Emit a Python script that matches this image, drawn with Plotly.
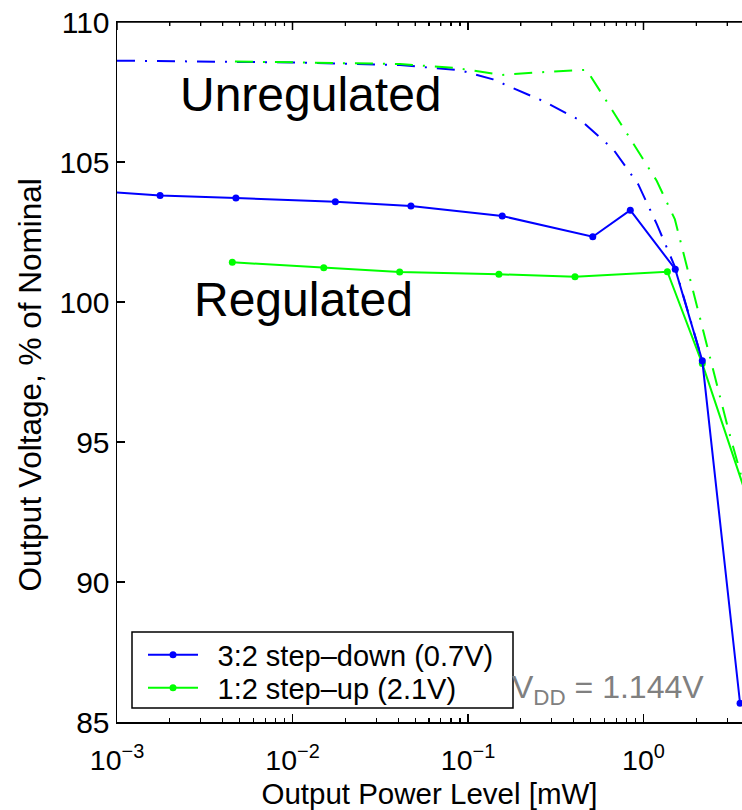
import plotly.graph_objects as go

# Regulated 3:2 step-down (0.7V)
down_reg_x = [0.00095, 0.00176, 0.00476, 0.01754, 0.0473, 0.1567, 0.514, 0.841, 1.517, 2.163, 3.55]
down_reg_y = [103.92, 103.8, 103.71, 103.58, 103.43, 103.07, 102.33, 103.28, 101.17, 97.9, 85.67]

# Regulated 1:2 step-up (2.1V)
up_reg_x = [0.00454, 0.01507, 0.0408, 0.150, 0.407, 1.368, 2.163, 4.0]
up_reg_y = [101.42, 101.22, 101.07, 100.99, 100.9, 101.08, 97.8, 92.8]

# Unregulated 3:2 step-down
down_unreg_x = [0.001, 0.011, 0.041, 0.09, 0.139, 0.267, 0.444, 0.673, 0.934, 1.189, 1.51, 2.163]
down_unreg_y = [108.62, 108.55, 108.46, 108.28, 107.95, 107.18, 106.46, 105.45, 104.2, 102.79, 101.26, 97.9]

# Unregulated 1:2 step-up
up_unreg_x = [0.0047, 0.041, 0.0843, 0.1556, 0.2807, 0.4743, 0.644, 0.875, 1.189, 1.51, 1.738,
              2.009, 2.29, 2.634, 3.04, 3.55, 4.0]
up_unreg_y = [108.59, 108.5, 108.36, 108.11, 108.22, 108.29, 106.98, 105.67, 104.33, 102.95, 101.45,
              99.97, 98.49, 96.98, 95.46, 93.94, 92.75]

legend_names = ["3:2 step\u2013down (0.7V)", "1:2 step\u2013up (2.1V)"]
y_ticks = [85, 90, 95, 100, 105, 110]
x_major = [0.001, 0.01, 0.1, 1]
x_major_text = ["10<sup>\u22123</sup>", "10<sup>\u22122</sup>", "10<sup>\u22121</sup>", "10<sup>0</sup>"]
x_minor = [m * d for d in (0.001, 0.01, 0.1, 1) for m in range(2, 10) if m * d < 4]

BLUE = "#0000FF"
GREEN = "#00FF00"
FONT = "Liberation Sans, Arial, Helvetica, sans-serif"
DASHDOT = "18px,10px,2px,10px"
X_RANGE = [-3, 0.5613]
PLOT_H = 700  # plot-area height in px (810 - 22 - 88)

fig = go.Figure()
fig.add_trace(go.Scatter(x=up_reg_x, y=up_reg_y, mode="lines+markers", name="\u2002" + legend_names[1],
                         line=dict(color=GREEN, width=2), marker=dict(color=GREEN, size=7),
                         legend="legend2"))
fig.add_trace(go.Scatter(x=down_unreg_x, y=down_unreg_y, mode="lines", xaxis="x2",
                         line=dict(color=BLUE, width=2, dash=DASHDOT), showlegend=False))
fig.add_trace(go.Scatter(x=up_unreg_x, y=up_unreg_y, mode="lines", xaxis="x2",
                         line=dict(color=GREEN, width=2, dash=DASHDOT), showlegend=False))
fig.add_trace(go.Scatter(x=down_reg_x, y=down_reg_y, mode="lines+markers", name="\u2002" + legend_names[0],
                         xaxis="x3", line=dict(color=BLUE, width=2), marker=dict(color=BLUE, size=7),
                         legend="legend"))

leg_common = dict(xanchor="left", yanchor="middle", bgcolor="rgba(0,0,0,0)", borderwidth=0,
                  font=dict(size=29), itemwidth=50)

base_axis = dict(type="log", range=X_RANGE, tickmode="array", tickvals=x_major,
                 showline=True, linecolor="black", linewidth=1.5,
                 showgrid=False, zeroline=False, automargin=False)
inside_ticks = dict(ticks="inside", ticklen=8, tickwidth=1.5, tickcolor="black",
                    minor=dict(tickmode="array", tickvals=x_minor, ticks="inside", ticklen=4,
                               tickcolor="black", tickwidth=1.2))

fig.update_layout(
    width=742, height=810,
    margin=dict(l=117, r=0, t=22, b=88),
    plot_bgcolor="white", paper_bgcolor="white",
    font=dict(family=FONT, color="black", size=28),
    hovermode=False,
    legend=dict(x=0.0416, y=0.0957, **leg_common),
    legend2=dict(x=0.0416, y=0.0486, **leg_common),
    xaxis=dict(ticktext=x_major_text, tickfont=dict(size=28.5),
               ticks="outside", ticklen=12, tickcolor="rgba(0,0,0,0)",
               title=dict(text="Output Power Level [mW]", font=dict(size=29.5), standoff=8),
               **base_axis),
    xaxis2=dict(overlaying="x", matches="x", side="top", showticklabels=False,
                **inside_ticks, **base_axis),
    xaxis3=dict(overlaying="x", matches="x", side="bottom", showticklabels=False,
                **inside_ticks, **base_axis),
    yaxis=dict(range=[85, 110], tickvals=y_ticks,
               showline=True, linecolor="black", linewidth=1.5,
               ticks="inside", ticklen=8, tickwidth=1.5, tickcolor="black",
               showgrid=False, zeroline=False, tickfont=dict(size=30), automargin=False),
)

# top frame line and its inward ticks
fig.add_shape(type="line", xref="paper", yref="paper", x0=0, x1=1, y0=1, y1=1,
              line=dict(color="black", width=1.5), layer="above")
for v in x_major:
    fig.add_shape(type="line", xref="x", yref="paper", x0=v, x1=v, y0=1, y1=1 - 8 / PLOT_H,
                  line=dict(color="black", width=1.5), layer="above")
for v in x_minor:
    fig.add_shape(type="line", xref="x", yref="paper", x0=v, x1=v, y0=1, y1=1 - 4 / PLOT_H,
                  line=dict(color="black", width=1.2), layer="above")

fig.add_shape(type="rect", xref="paper", yref="paper", x0=0.024, x1=0.6336, y0=0.02, y1=0.1286,
              line=dict(color="black", width=1.5), fillcolor="white", layer="below")

fig.add_annotation(xref="paper", yref="paper", x=-0.139, y=0.481, xanchor="center", yanchor="middle",
                   textangle=-90, text="Output Voltage, % of Nominal", showarrow=False,
                   font=dict(size=31.5, color="black"))
fig.add_annotation(xref="paper", yref="paper", x=0.0976, y=0.897, xanchor="left", yanchor="middle",
                   text="Unregulated", showarrow=False, font=dict(size=48, color="black"))
fig.add_annotation(xref="paper", yref="paper", x=0.12, y=0.6029, xanchor="left", yanchor="middle",
                   text="Regulated", showarrow=False, font=dict(size=48, color="black"))
fig.add_annotation(xref="paper", yref="paper", x=0.628, y=0.0471, xanchor="left", yanchor="middle",
                   text="V<sub>DD</sub> = 1.144V", showarrow=False, font=dict(size=32, color="#808080"))

# remove the browser's default 8px page margin so the figure fills the window exactly
fig.write_html("out.html", config={"displayModeBar": False, "staticPlot": True},
               post_script="document.body.style.margin='0';")
